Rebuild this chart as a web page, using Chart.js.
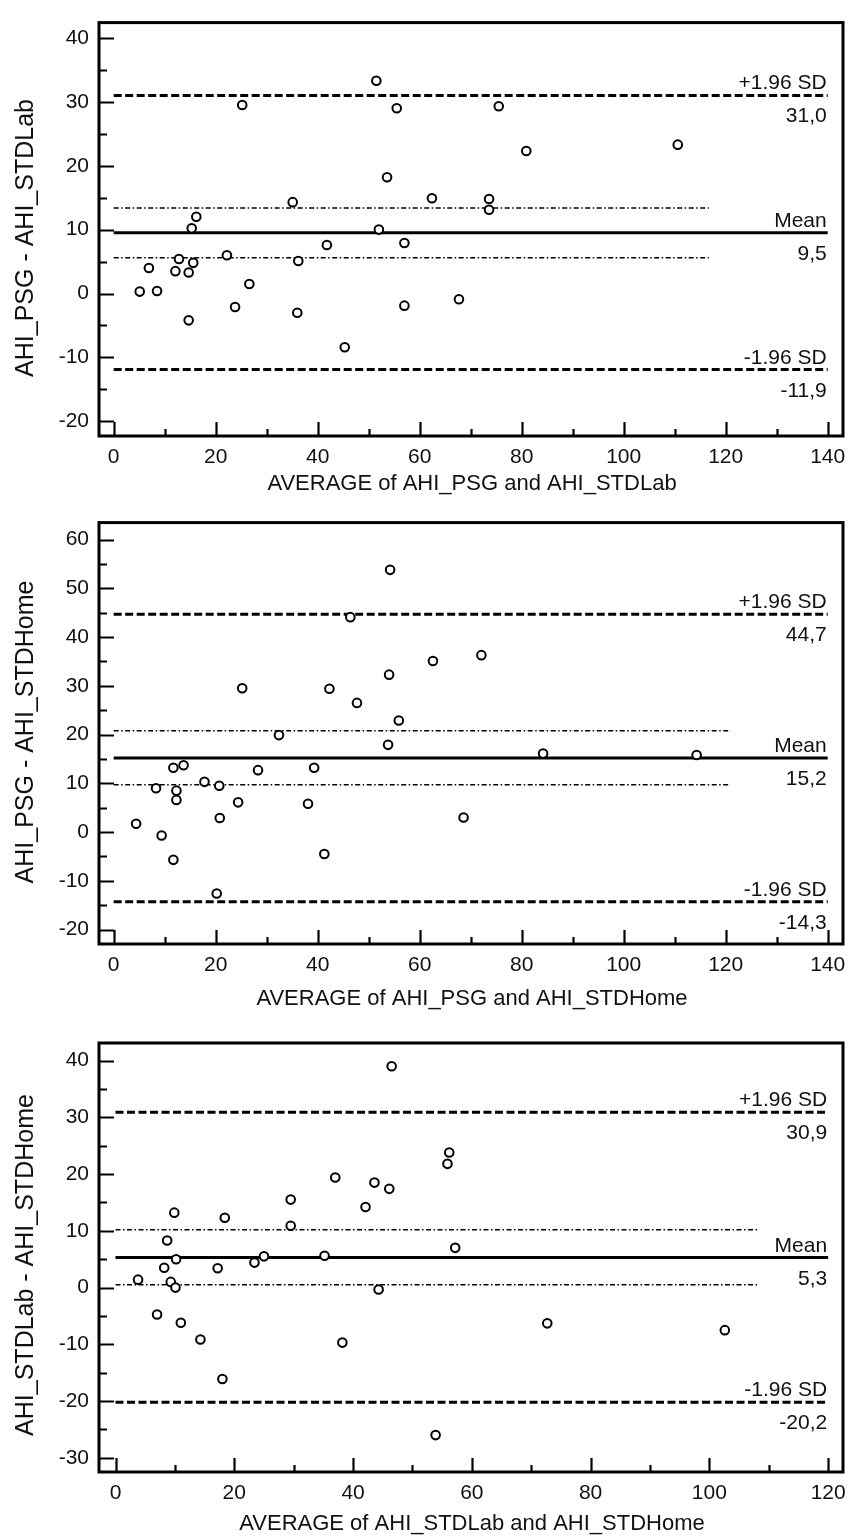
<!DOCTYPE html>
<html><head><meta charset="utf-8">
<script src="https://cdn.jsdelivr.net/npm/chart.js@4.4.1/dist/chart.umd.min.js"></script>
<style>
html,body{margin:0;padding:0;background:#fff;width:863px;height:1536px;overflow:hidden}
canvas{position:absolute;left:0}
</style></head><body>
<canvas id="c1" width="863" height="500" style="top:0px"></canvas>
<canvas id="c2" width="863" height="510" style="top:500px"></canvas>
<canvas id="c3" width="863" height="526" style="top:1010px"></canvas>
<script>
// ---------- Panel 1: AHI_PSG vs AHI_STDLab ----------
const avg1  = [5.1,6.9,8.5,12.1,12.8,14.7,15.6,14.7,15.3,16.2,22.2,23.8,25.2,26.6,35.1,36.0,36.2,41.8,45.3,51.5,52.0,53.6,55.5,57.0,57.0,62.4,67.7,73.6,73.6,75.5,80.9,110.6];
const diff1 = [0.3,4.0,0.4,3.5,5.4,3.3,4.8,-4.2,10.2,12.0,6.0,-2.1,29.5,1.5,14.3,-3.0,5.1,7.6,-8.4,33.3,10.0,18.2,29.0,7.9,-1.9,14.9,-0.9,14.8,13.1,29.3,22.3,23.3];
const lines1 = [31.0, 9.5, -11.9];          // +1.96 SD, mean, -1.96 SD
const lineLabels1 = ["31,0", "9,5", "-11,9"];
const ci1 = [13.4, 5.6];
const ciEnd1 = 116.7;
const xTicks1 = [0,20,40,60,80,100,120,140];
const yTicks1 = [-20,-10,0,10,20,30,40];

// ---------- Panel 2: AHI_PSG vs AHI_STDHome ----------
const avg2  = [4.4,8.3,9.4,11.7,11.7,12.3,12.3,13.7,17.8,20.2,20.7,20.8,24.4,25.2,28.3,32.4,38.1,39.3,41.3,42.3,46.4,47.7,53.8,54.0,54.2,55.9,62.6,68.6,72.1,84.2,114.3];
const diff2 = [1.7,9.0,-0.7,13.2,-5.7,8.5,6.6,13.7,10.3,-12.6,9.5,2.9,6.1,29.5,12.7,19.9,5.8,13.2,-4.5,29.4,44.1,26.5,17.9,32.3,53.8,22.9,35.1,3.0,36.3,16.1,15.8];
const lines2 = [44.7, 15.2, -14.3];
const lineLabels2 = ["44,7", "15,2", "-14,3"];
const ci2 = [20.8, 9.7];
const ciEnd2 = 121.0;
const xTicks2 = [0,20,40,60,80,100,120,140];
const yTicks2 = [-20,-10,0,10,20,30,40,50,60];

// ---------- Panel 3: AHI_STDLab vs AHI_STDHome ----------
const avg3  = [3.8,7.0,8.2,8.7,9.3,9.9,10.1,10.2,11.0,14.3,17.2,18.0,18.4,23.4,25.0,29.5,29.5,35.2,37.0,38.2,42.1,43.6,44.3,46.1,46.5,53.9,55.9,56.2,57.2,72.7,102.6];
const diff3 = [1.4,-4.75,3.5,8.3,1.0,13.2,0.0,5.0,-6.2,-9.15,3.4,-16.1,12.3,4.4,5.5,15.5,10.9,5.6,19.4,-9.7,14.2,18.5,-0.35,17.4,39.0,-26.0,21.8,23.8,7.0,-6.3,-7.5];
const lines3 = [30.9, 5.3, -20.2];
const lineLabels3 = ["30,9", "5,3", "-20,2"];
const ci3 = [10.2, 0.5];
const ciEnd3 = 108.2;
const xTicks3 = [0,20,40,60,80,100,120];
const yTicks3 = [-30,-20,-10,0,10,20,30,40];

const lineNames = ["+1.96 SD", "Mean", "-1.96 SD"];
const FONT = "'Liberation Sans', Arial, Helvetica, sans-serif";

function makeChart(id, p) {
  const canvas = document.getElementById(id);
  const H = canvas.height;
  const xMax = p.xTicks[p.xTicks.length - 1];
  const xStep = p.xTicks[1] - p.xTicks[0];
  const yStep = p.yTicks[1] - p.yTicks[0];
  const hline = (y, x1, x2) => [{x: x1, y: y}, {x: x2, y: y}];

  const deco = {
    id: 'deco',
    afterDraw(chart) {
      const ctx = chart.ctx, a = chart.chartArea;
      const xs = chart.scales.x, ys = chart.scales.y;
      ctx.save();
      ctx.strokeStyle = '#000';
      ctx.lineWidth = 3;
      ctx.strokeRect(a.left, a.top, a.right - a.left, a.bottom - a.top);
      // ticks (inside)
      ctx.lineWidth = 2.2;
      ctx.beginPath();
      for (let v = p.xTicks[0]; v <= xMax + 1e-9; v += xStep / 2) {
        const px = Math.round(xs.getPixelForValue(v)) + 0.5;
        const major = Math.abs(v / xStep - Math.round(v / xStep)) < 1e-6;
        ctx.moveTo(px, a.bottom);
        ctx.lineTo(px, a.bottom - (major ? 14 : 7));
      }
      const yMaxT = p.yTicks[p.yTicks.length - 1];
      for (let v = p.yTicks[0]; v <= yMaxT + 1e-9; v += yStep / 2) {
        const py = Math.round(ys.getPixelForValue(v)) + 0.5;
        const major = Math.abs(v / yStep - Math.round(v / yStep)) < 1e-6;
        ctx.moveTo(a.left, py);
        ctx.lineTo(a.left + (major ? 15 : 8), py);
      }
      ctx.stroke();
      // line labels
      ctx.fillStyle = '#111';
      ctx.font = '21px ' + FONT;
      ctx.textAlign = 'right';
      ctx.textBaseline = 'alphabetic';
      const rx = xs.getPixelForValue(xMax) - 1;
      p.lines.forEach((v, i) => {
        const py = ys.getPixelForValue(v);
        ctx.fillText(lineNames[i], rx, py - 6);
        ctx.fillText(p.lineLabels[i], rx, py + 27);
      });
      // axis titles
      ctx.textAlign = 'center';
      ctx.textBaseline = 'middle';
      ctx.font = '22px ' + FONT;
      ctx.fillText(p.xTitle, 472, p.xTitleY);
      ctx.save();
      ctx.translate(26, p.yTitleY);
      ctx.rotate(-Math.PI / 2);
      ctx.font = '25px ' + FONT;
      ctx.fillText(p.yTitle, 0, 0);
      ctx.restore();
      ctx.restore();
    }
  };

  return new Chart(canvas, {
    type: 'scatter',
    data: {
      datasets: [
        { data: p.avg.map((x, i) => ({x: x, y: p.diff[i]})), pointRadius: 4.3, pointHoverRadius: 4.3,
          pointBorderWidth: 2, pointBorderColor: '#000', pointBackgroundColor: '#fff', showLine: false },
        { type: 'line', data: hline(p.lines[1], 0, xMax), borderColor: '#000', borderWidth: 3, pointRadius: 0 },
        { type: 'line', data: hline(p.lines[0], 0, xMax), borderColor: '#000', borderWidth: 3, borderDash: [8, 3.5], pointRadius: 0 },
        { type: 'line', data: hline(p.lines[2], 0, xMax), borderColor: '#000', borderWidth: 3, borderDash: [8, 3.5], pointRadius: 0 },
        { type: 'line', data: hline(p.ci[0], 0, p.ciEnd), borderColor: '#000', borderWidth: 1.5, borderDash: [5, 2.5, 1.5, 2.5], pointRadius: 0 },
        { type: 'line', data: hline(p.ci[1], 0, p.ciEnd), borderColor: '#000', borderWidth: 1.5, borderDash: [5, 2.5, 1.5, 2.5], pointRadius: 0 }
      ]
    },
    options: {
      responsive: false,
      animation: false,
      events: [],
      layout: { padding: { left: 0, right: 863 - 843, top: p.frameTop, bottom: 0 } },
      plugins: { legend: { display: false }, tooltip: { enabled: false } },
      scales: {
        x: {
          type: 'linear', min: p.xMin, max: p.xMaxFrame,
          grid: { display: false, drawTicks: false }, border: { display: false },
          ticks: { color: '#111', font: { family: FONT, size: 21 }, padding: 9, maxRotation: 0, autoSkip: false },
          afterBuildTicks: s => { s.ticks = p.xTicks.map(v => ({value: v})); },
          afterFit: s => { s.height = H - p.frameBottom; }
        },
        y: {
          type: 'linear', min: p.yMin, max: p.yMax,
          grid: { display: false, drawTicks: false }, border: { display: false },
          ticks: { color: '#111', font: { family: FONT, size: 21 }, padding: 10, autoSkip: false },
          afterBuildTicks: s => { s.ticks = p.yTicks.map(v => ({value: v})); },
          afterFit: s => { s.width = 99; }
        }
      }
    },
    plugins: [deco]
  });
}

makeChart('c1', { avg: avg1, diff: diff1, lines: lines1, lineLabels: lineLabels1, ci: ci1, ciEnd: ciEnd1,
  xTicks: xTicks1, yTicks: yTicks1, xMin: -2.88, xMaxFrame: 143.0, yMin: -22.3, yMax: 42.4,
  frameTop: 8, frameBottom: 436, xTitle: 'AVERAGE of AHI_PSG and AHI_STDLab', xTitleY: 484,
  yTitle: 'AHI_PSG - AHI_STDLab', yTitleY: 238 });
makeChart('c2', { avg: avg2, diff: diff2, lines: lines2, lineLabels: lineLabels2, ci: ci2, ciEnd: ciEnd2,
  xTicks: xTicks2, yTicks: yTicks2, xMin: -2.88, xMaxFrame: 143.0, yMin: -22.97, yMax: 63.5,
  frameTop: 16, frameBottom: 444, xTitle: 'AVERAGE of AHI_PSG and AHI_STDHome', xTitleY: 499,
  yTitle: 'AHI_PSG - AHI_STDHome', yTitleY: 232 });
makeChart('c3', { avg: avg3, diff: diff3, lines: lines3, lineLabels: lineLabels3, ci: ci3, ciEnd: ciEnd3,
  xTicks: xTicks3, yTicks: yTicks3, xMin: -2.78, xMaxFrame: 122.5, yMin: -32.5, yMax: 43.1,
  frameTop: 33, frameBottom: 462, xTitle: 'AVERAGE of AHI_STDLab and AHI_STDHome', xTitleY: 514,
  yTitle: 'AHI_STDLab - AHI_STDHome', yTitleY: 255 });
</script>
</body></html>
